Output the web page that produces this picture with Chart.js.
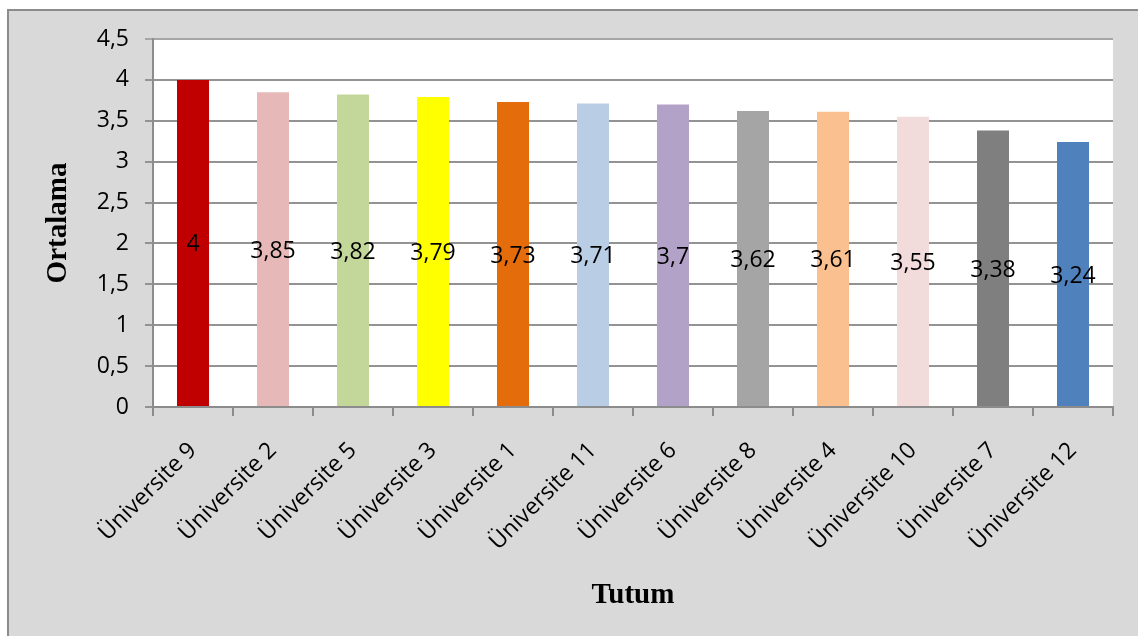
<!DOCTYPE html>
<html>
<head>
<meta charset="utf-8">
<script src="https://cdn.jsdelivr.net/npm/chart.js@4.4.0/dist/chart.umd.min.js"></script>
<style>
  html, body { margin: 0; padding: 0; background: #ffffff; }
  #wrap { position: absolute; left: 0; top: 0; width: 1138px; height: 636px; }
</style>
</head>
<body>
<div id="wrap"><canvas id="c" width="1138" height="636"></canvas></div>
<script>
// University mean scores for the "Tutum" dimension
const universities = ['Üniversite 9', 'Üniversite 2', 'Üniversite 5', 'Üniversite 3', 'Üniversite 1', 'Üniversite 11',
                      'Üniversite 6', 'Üniversite 8', 'Üniversite 4', 'Üniversite 10', 'Üniversite 7', 'Üniversite 12'];
const means = [4, 3.85, 3.82, 3.79, 3.73, 3.71, 3.7, 3.62, 3.61, 3.55, 3.38, 3.24];
const barColors = ['#c00000', '#e6b9b8', '#c4d79b', '#ffff00', '#e46c0a', '#b9cde5',
                   '#b3a2c7', '#a5a5a5', '#fac090', '#f2dcdb', '#7f7f7f', '#4f81bd'];
const yTicks = { min: 0, max: 4.5, step: 0.5 };
const xTitle = 'Tutum';
const yTitle = 'Ortalama';

const comma = v => String(v).replace('.', ',');

// Panel background, frame and white plot area
const framePlugin = {
  id: 'frame',
  beforeDraw(chart) {
    const { ctx, chartArea: a } = chart;
    ctx.save();
    ctx.fillStyle = '#d9d9d9';
    ctx.fillRect(7, 9, chart.width - 7, chart.height - 9);
    ctx.fillStyle = '#8c8c8c';
    ctx.fillRect(7, 9, 2, chart.height - 9);
    ctx.fillRect(7, 9, chart.width - 7, 2);
    ctx.fillStyle = '#ffffff';
    ctx.fillRect(a.left, a.top, a.right - a.left, a.bottom - a.top);
    ctx.restore();
  }
};

// Value labels centred inside each bar
const valueLabels = {
  id: 'valueLabels',
  afterDatasetsDraw(chart) {
    const { ctx } = chart;
    const meta = chart.getDatasetMeta(0);
    ctx.save();
    ctx.font = '23px "Open Sans"';
    ctx.fillStyle = '#000000';
    ctx.textAlign = 'center';
    ctx.textBaseline = 'middle';
    meta.data.forEach((bar, i) => {
      const y = (bar.y + bar.base) / 2 + 2;
      ctx.fillText(comma(means[i]), bar.x, y);
    });
    ctx.restore();
  }
};

new Chart(document.getElementById('c'), {
  type: 'bar',
  data: {
    labels: universities,
    datasets: [{
      data: means,
      backgroundColor: barColors,
      borderWidth: 0,
      barPercentage: 0.4,
      categoryPercentage: 1.0
    }]
  },
  options: {
    responsive: false,
    animation: false,
    devicePixelRatio: 1,
    layout: { padding: { left: 0, top: 39, right: 25, bottom: 0 } },
    plugins: { legend: { display: false }, tooltip: { enabled: false } },
    scales: {
      x: {
        afterFit(scale) { scale.height = 229; },
        border: { display: true, color: '#8c8c8c', width: 2 },
        grid: { drawOnChartArea: false, drawTicks: true, tickLength: 9, color: '#8c8c8c', lineWidth: 2, offset: true },
        ticks: {
          color: '#000000',
          font: { family: 'Open Sans', size: 23 },
          minRotation: 45,
          maxRotation: 45,
          autoSkip: false,
          padding: 21
        },
        title: {
          display: true,
          text: xTitle,
          color: '#000000',
          font: { family: 'Liberation Serif', size: 29, weight: 'bold' },
          padding: { top: 0, bottom: 23 }
        }
      },
      y: {
        min: yTicks.min,
        max: yTicks.max,
        afterFit(scale) { scale.width = 153; },
        border: { display: true, color: '#8c8c8c', width: 2 },
        grid: {
          color: ctx => (ctx.tick && ctx.tick.value === yTicks.max) ? '#a6a6a6' : '#939393',
          lineWidth: 2,
          drawTicks: true,
          tickLength: 8
        },
        ticks: {
          stepSize: yTicks.step,
          color: '#000000',
          font: { family: 'Open Sans', size: 23 },
          padding: 16,
          callback: v => comma(v)
        },
        title: {
          display: true,
          text: yTitle,
          color: '#000000',
          font: { family: 'Liberation Serif', size: 29, weight: 'bold' },
          padding: { top: 41, bottom: 0 }
        }
      }
    }
  },
  plugins: [framePlugin, valueLabels]
});
</script>
</body>
</html>
